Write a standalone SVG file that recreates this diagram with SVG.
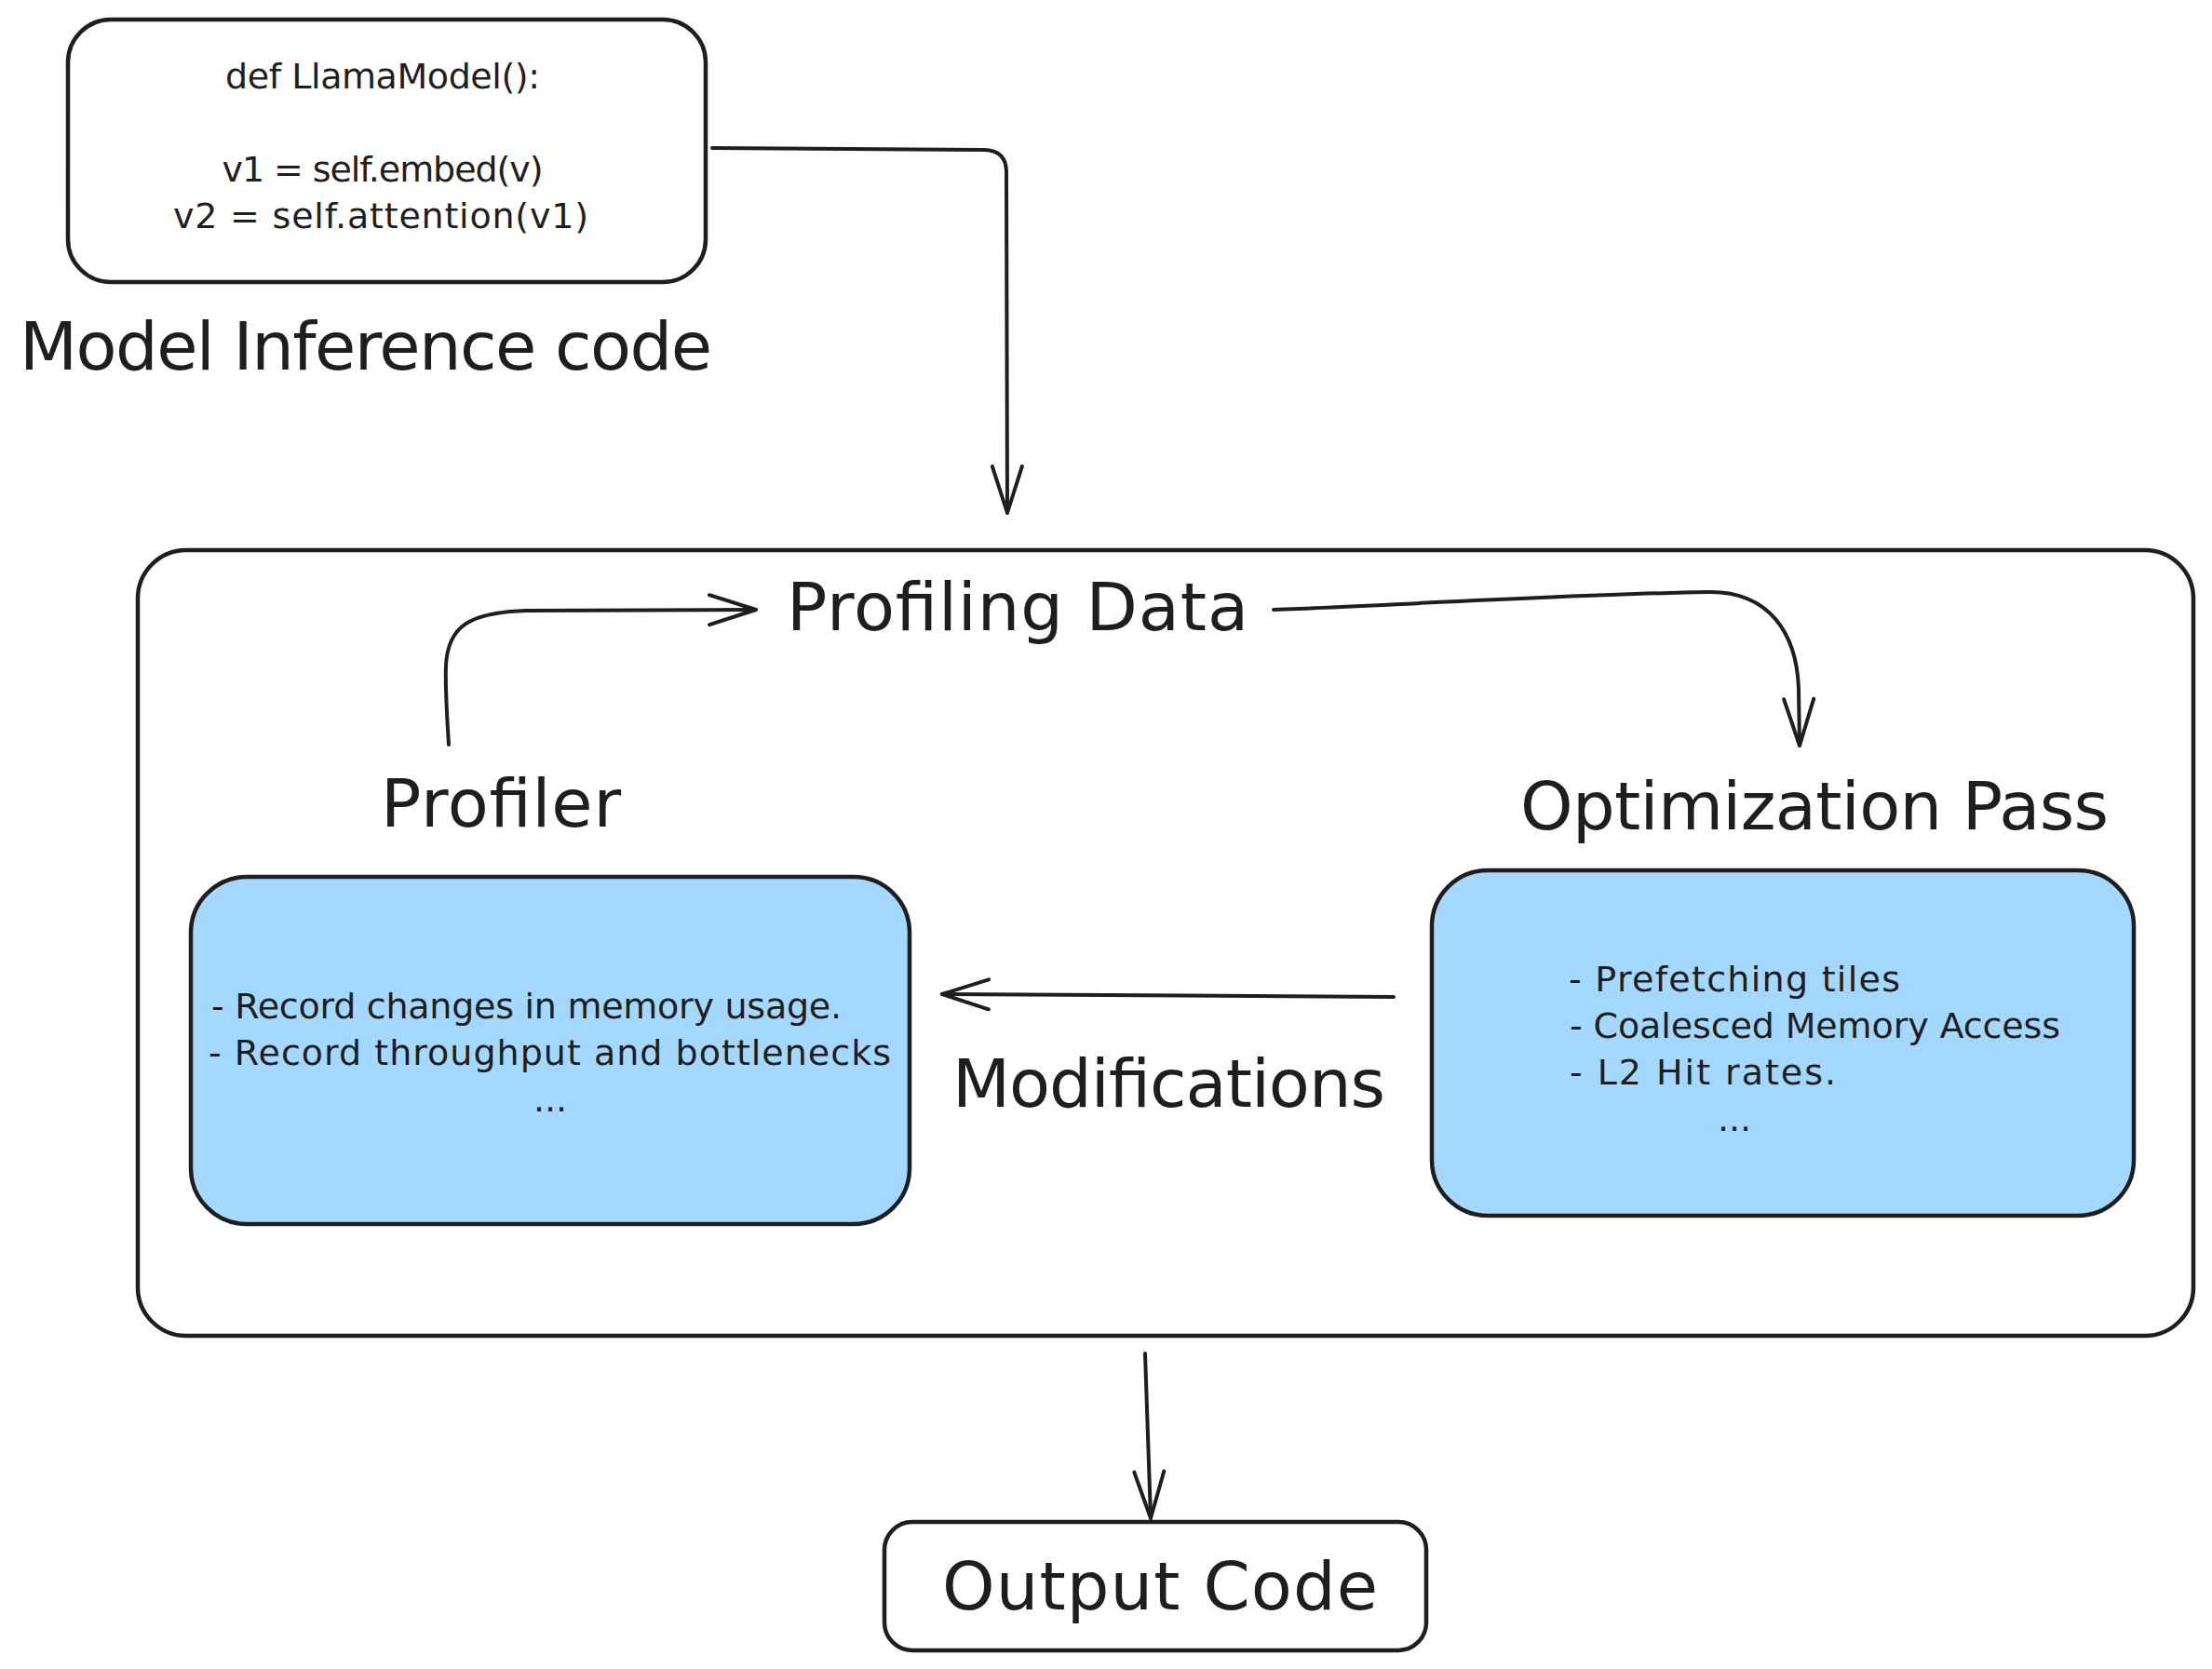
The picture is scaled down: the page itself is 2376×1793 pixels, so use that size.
<svg xmlns="http://www.w3.org/2000/svg" width="2376" height="1793" viewBox="0 0 2376 1793">
  <style>
    .box { fill: #ffffff; stroke: #1e1e1e; stroke-width: 4.5; }
    .blue { fill: #a5d8ff; stroke: #1e1e1e; stroke-width: 4.5; }
    .edge { fill: none; stroke: #1e1e1e; stroke-width: 4; stroke-linecap: round; stroke-linejoin: round; }
    .big { font-family: "DejaVu Sans", "Liberation Sans", sans-serif; font-size: 72px; fill: #1e1e1e; }
    .small { font-family: "DejaVu Sans", "Liberation Sans", sans-serif; font-size: 38px; fill: #1e1e1e; }
  </style>
  <defs>
    <marker id="arrow" markerUnits="userSpaceOnUse" viewBox="-56 -24 64 48" markerWidth="64" markerHeight="48" refX="0" refY="0" orient="auto">
      <path d="M -50 -16 L 0 0 L -50 16" fill="none" stroke="#1e1e1e" stroke-width="4" stroke-linecap="round" stroke-linejoin="round"/>
    </marker>
  </defs>
  <rect width="2376" height="1793" fill="#ffffff"/>

  <g id="code-box">
    <rect class="box" x="73" y="21" width="685" height="282" rx="46" ry="46"/>
    <text class="small" x="411" y="95" text-anchor="middle" textLength="338">def LlamaModel():</text>
    <text class="small" x="411" y="195" text-anchor="middle" textLength="345">v1 = self.embed(v)</text>
    <text class="small" x="409" y="245" text-anchor="middle" textLength="446">v2 = self.attention(v1)</text>
  </g>

  <g id="label-model-inference">
    <text class="big" x="21" y="397" textLength="744">Model Inference code</text>
  </g>

  <g id="main-container">
    <rect class="box" x="148" y="591" width="2208" height="844" rx="52" ry="52"/>
  </g>

  <g id="label-profiling-data">
    <text class="big" x="845" y="677" textLength="496">Profiling Data</text>
  </g>

  <g id="label-profiler">
    <text class="big" x="409" y="888" textLength="258">Profiler</text>
  </g>

  <g id="label-optimization-pass">
    <text class="big" x="1633" y="891" textLength="632">Optimization Pass</text>
  </g>

  <g id="profiler-box">
    <rect class="blue" x="205" y="942" width="772" height="373" rx="60" ry="60"/>
    <text class="small" x="227" y="1094" textLength="677">- Record changes in memory usage.</text>
    <text class="small" x="224" y="1144" textLength="733">- Record throughput and bottlenecks</text>
    <text class="small" x="591" y="1194" text-anchor="middle">...</text>
  </g>

  <g id="optimization-box">
    <rect class="blue" x="1538" y="935" width="754" height="371" rx="60" ry="60"/>
    <text class="small" x="1685" y="1065" textLength="356">- Prefetching tiles</text>
    <text class="small" x="1686" y="1115" textLength="527">- Coalesced Memory Access</text>
    <text class="small" x="1686" y="1165" textLength="286">- L2 Hit rates.</text>
    <text class="small" x="1863" y="1215" text-anchor="middle">...</text>
  </g>

  <g id="label-modifications">
    <text class="big" x="1023" y="1189" textLength="465">Modifications</text>
  </g>

  <g id="output-box">
    <rect class="box" x="950" y="1635" width="582" height="138" rx="30" ry="30"/>
    <text class="big" x="1012" y="1729" textLength="468">Output Code</text>
  </g>

  <g id="connectors">
    <path class="edge" d="M 765 159 L 1058 161 Q 1081 162 1081 185 L 1082 551" marker-end="url(#arrow)"/>
    <path class="edge" d="M 482 800 C 480 765 478 740 479 715 C 481 672 505 658 565 656 L 812 655" marker-end="url(#arrow)"/>
    <path class="edge" d="M 1368 655 C 1500 650 1700 638 1835 636 C 1900 635 1930 680 1932 740 L 1933 801" marker-end="url(#arrow)"/>
    <path class="edge" d="M 1497 1071 L 1012 1068" marker-end="url(#arrow)"/>
    <path class="edge" d="M 1230 1454 L 1236 1631" marker-end="url(#arrow)"/>
  </g>
</svg>
